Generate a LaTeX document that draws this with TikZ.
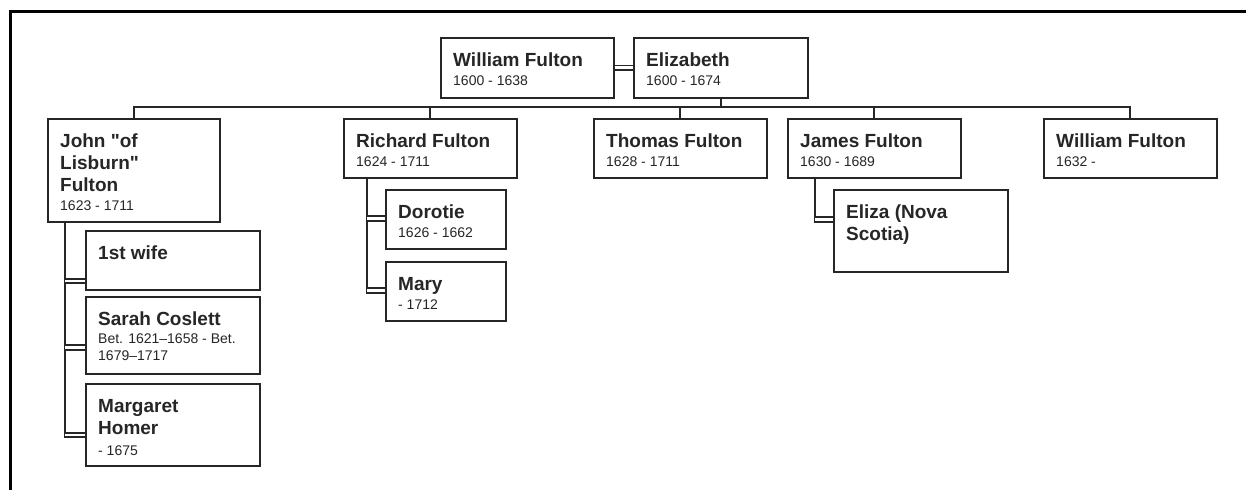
\documentclass[tikz,border=0pt]{standalone}
\usepackage{fontspec}
\setmainfont{Liberation Sans}[Ligatures=TeXOff]
\usetikzlibrary{calc}
\definecolor{ink}{HTML}{262626}
\newcommand{\namefont}{\fontsize{19}{22}\bfseries\selectfont}
\newcommand{\datefont}{\fontsize{14}{17}\mdseries\selectfont}
\newcommand{\topstrut}{\rule{0pt}{15pt}}
\newcommand{\dates}[1]{{\datefont #1}}
\tikzset{
  pbox/.style={draw=ink, line width=1.5pt, anchor=north west, inner sep=0pt, fill=white},
  ptext/.style={anchor=north west, inner sep=0pt, text width=158pt, align=flush left, text=ink, font=\namefont},
  link/.style={draw=ink, line width=1.6pt},
  wedlock/.style={draw=ink, line width=1.8pt, double=white, double distance=2.6pt},
  frameline/.style={draw=black, line width=3.3pt}
}
% \person{name}{x}{y}{width}{height}{text}
\newcommand{\person}[6]{%
  \node[pbox, minimum width=#4pt, minimum height=#5pt] (#1) at (#2,#3) {};
  \node[ptext] (#1-t) at ($(#1.north west)+(13,14)$) {\topstrut #6};
}
\begin{document}
\begin{tikzpicture}[x=1pt, y=-1pt]
\useasboundingbox (0,0) rectangle (1246,490);

% outer frame (top and left edges only)
\draw[frameline] (9,11.3) -- (1246,11.3);
\draw[frameline] (10.7,11.3) -- (10.7,490);

% parents
\person{wf}{440}{37}{173}{60}{William Fulton\\[-2.5pt]\dates{1600 - 1638}}
\person{el}{633}{37}{174}{60}{Elizabeth\\[-2.5pt]\dates{1600 - 1674}}

% children
\person{john}{47}{118}{172}{103}{John "of\\Lisburn"\\Fulton\\[-2.5pt]\dates{1623 - 1711}}
\person{rich}{343}{118}{173}{59}{Richard Fulton\\[-2.5pt]\dates{1624 - 1711}}
\person{thom}{593}{118}{173}{59}{Thomas Fulton\\[-2.5pt]\dates{1628 - 1711}}
\person{jam}{787}{118}{173}{59}{James Fulton\\[-2.5pt]\dates{1630 - 1689}}
\person{wil}{1043}{118}{173}{59}{William Fulton\\[-2.5pt]\dates{1632 -}}

% spouses
\person{w1}{85}{230}{174}{59}{1st wife}
\person{sarah}{85}{296}{174}{77}{Sarah Coslett\\[-3.5pt]\dates{Bet. 1621–1658 - Bet.}\\[-5pt]\dates{1679–1717}}
\person{marg}{85}{383}{174}{82}{Margaret\\Homer\\[-1pt]\dates{- 1675}}
\person{dor}{385}{189}{120}{59}{Dorotie\\[-2.5pt]\dates{1626 - 1662}}
\person{mary}{385}{261}{120}{59}{Mary\\[-2.5pt]\dates{- 1712}}
\person{eliza}{833}{189}{174}{82}{Eliza (Nova\\Scotia)}

% marriage of the parents and the line of descent
\draw[wedlock] (wf.east) -- (el.west);
\coordinate (bus) at (0,107);
\draw[link] (el.south) -- (el.south |- bus);
\draw[link] (john.north) -- (john.north |- bus) -- (wil.north |- bus) -- (wil.north);
\draw[link] (rich.north) -- (rich.north |- bus);
\draw[link] (thom.north) -- (thom.north |- bus);
\draw[link] (jam.north) -- (jam.north |- bus);

% John's wives
\coordinate (jv) at ($(john.south west)+(18,0)$);
\draw[link] (jv) -- ($(jv |- marg.north west)+(0,55)$);
\draw[wedlock] ($(w1.north west)+(0,51)$) -- ($(jv |- w1.north west)+(0,51)$);
\draw[wedlock] ($(sarah.north west)+(0,51.5)$) -- ($(jv |- sarah.north west)+(0,51.5)$);
\draw[wedlock] ($(marg.north west)+(0,52)$) -- ($(jv |- marg.north west)+(0,52)$);

% Richard's wives
\coordinate (rv) at ($(rich.south west)+(24,0)$);
\draw[link] (rv) -- ($(rv |- mary.north west)+(0,32.5)$);
\draw[wedlock] ($(dor.north west)+(0,29.5)$) -- ($(rv |- dor.north west)+(0,29.5)$);
\draw[wedlock] ($(mary.north west)+(0,29.5)$) -- ($(rv |- mary.north west)+(0,29.5)$);

% James's wife
\coordinate (jmv) at ($(jam.south west)+(28,0)$);
\draw[link] (jmv) -- ($(jmv |- eliza.north west)+(0,33.5)$);
\draw[wedlock] ($(eliza.north west)+(0,30.5)$) -- ($(jmv |- eliza.north west)+(0,30.5)$);
\end{tikzpicture}
\end{document}
